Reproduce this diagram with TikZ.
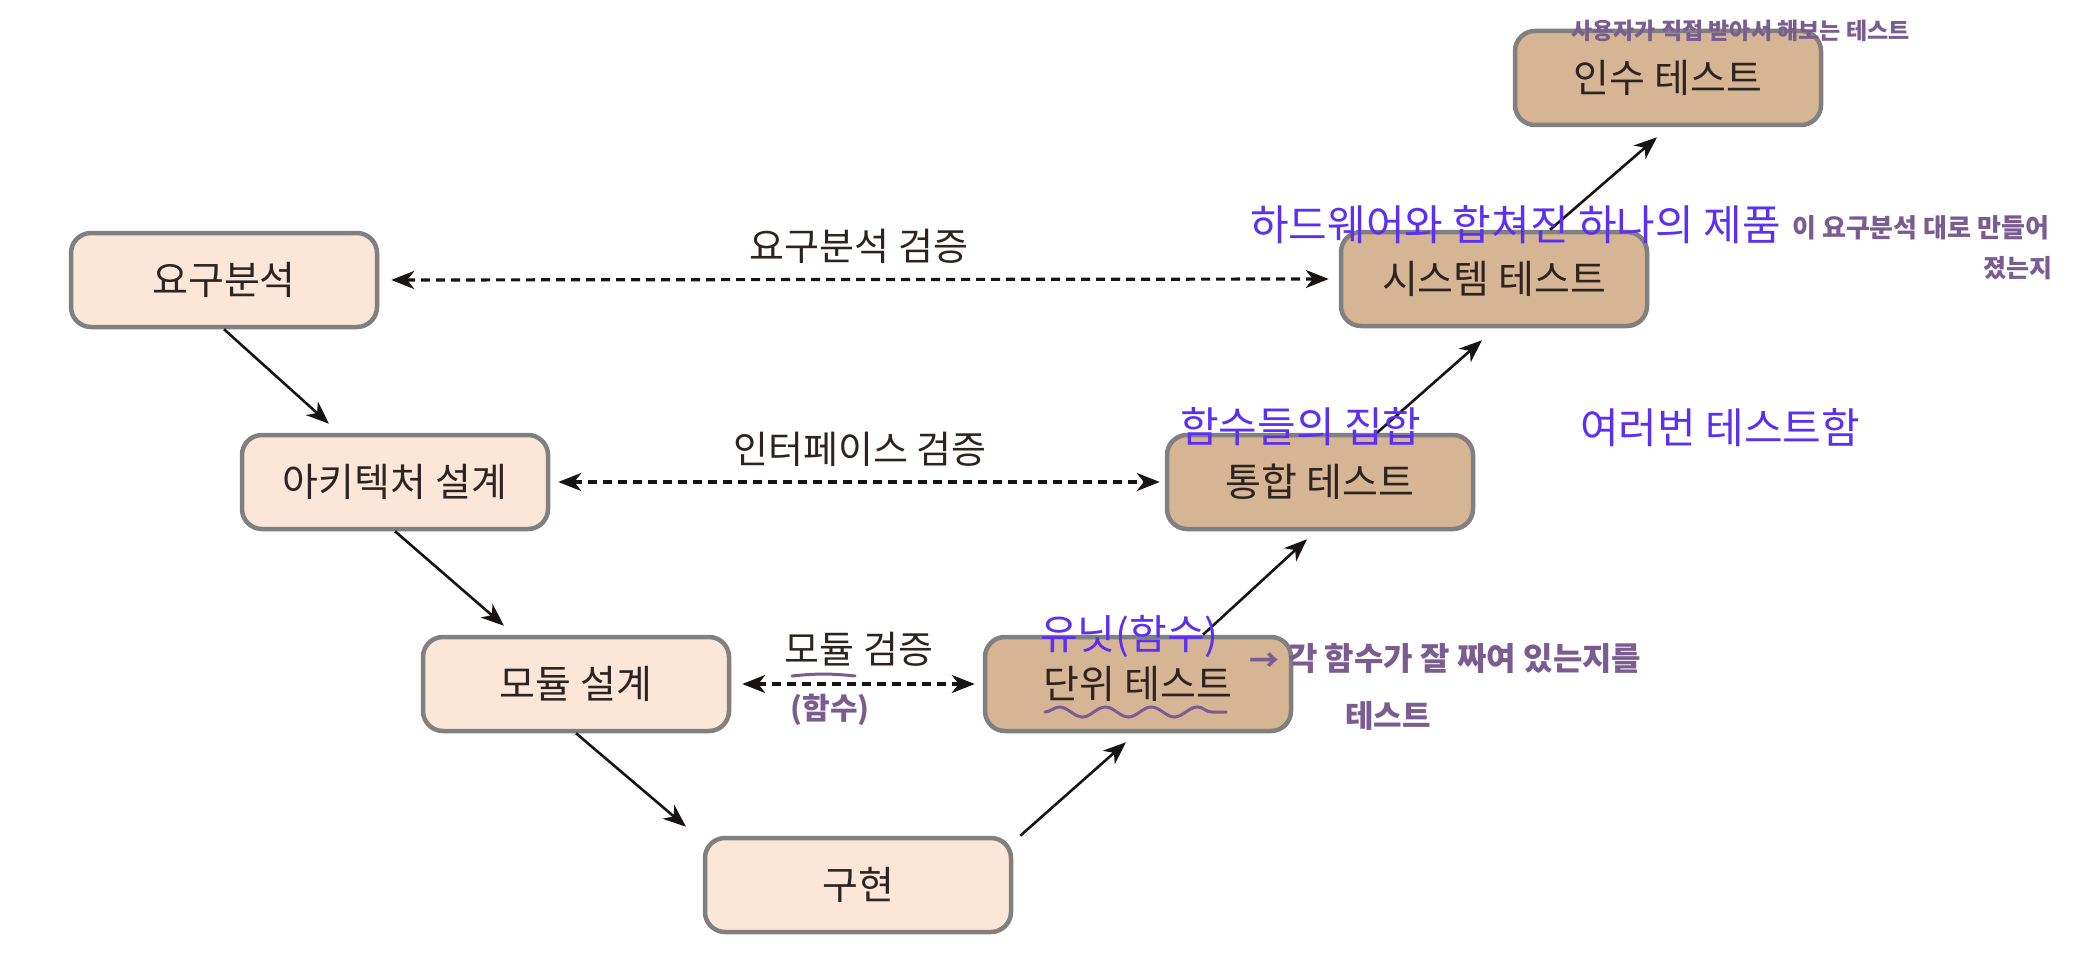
\documentclass[tikz,border=0pt]{standalone}
\usepackage{fontspec}
\setmainfont{Noto Sans CJK KR}
\usetikzlibrary{arrows.meta,calc,decorations.pathmorphing}
\definecolor{lightbox}{RGB}{251,230,216}
\definecolor{darkbox}{RGB}{214,181,149}
\definecolor{boxline}{RGB}{128,128,128}
\definecolor{inktext}{RGB}{45,36,33}
\definecolor{inkarrow}{RGB}{25,20,20}
\definecolor{notebl}{RGB}{92,48,240}
\definecolor{notepu}{RGB}{122,92,145}
\tikzset{
  stagebox/.style={draw=boxline, line width=4.5pt, rounded corners=20pt,
    minimum width=306pt, minimum height=94pt, text=inktext,
    font=\fontsize{39}{44}\selectfont},
  lightstage/.style={stagebox, fill=lightbox},
  darkstage/.style={stagebox, fill=darkbox},
  flowarrow/.style={draw=inkarrow, line width=2.6pt,
    -{Stealth[length=23pt,width=18pt,inset=7pt]}},
  checkarrow/.style={draw=inkarrow, line width=3.2pt, dash pattern=on 9pt off 6pt,
    {Stealth[length=23pt,width=18pt,inset=7pt]}-{Stealth[length=23pt,width=18pt,inset=7pt]}},
  checklabel/.style={text=inktext, font=\fontsize{38}{42}\selectfont, inner sep=0pt},
  bluenote/.style={text=notebl, inner sep=0pt},
  purplenote/.style={text=notepu, inner sep=0pt},
  purpleline/.style={draw=notepu, line width=3pt, line cap=round}
}
\begin{document}
\begin{tikzpicture}[x=1pt,y=-1pt]
\useasboundingbox (0,0) rectangle (2099,955);
% stages
\node[lightstage] (req)   at (224,280) {요구분석};
\node[lightstage] (arch)  at (395,482) {아키텍처 설계};
\node[lightstage] (mod)   at (576,684) {모듈 설계};
\node[lightstage] (impl)  at (858,885) {구현};
\node[darkstage]  (unit)  at (1138,684) {단위 테스트};
\node[darkstage]  (integ) at (1320,482) {통합 테스트};
\node[darkstage]  (sys)   at (1494,279) {시스템 테스트};
\node[darkstage]  (acc)   at (1668,78) {인수 테스트};
% flow arrows
\draw[flowarrow] (req.south) -- ($(arch.north)+(-66,-9)$);
\draw[flowarrow] (arch.south) -- ($(mod.north)+(-72,-9)$);
\draw[flowarrow] (mod.south) -- ($(impl.north)+(-172,-9)$);
\draw[flowarrow] ($(impl.north east)+(7,0)$) -- ($(unit.south)+(-12,9)$);
\draw[flowarrow] ($(unit.north)+(65,0)$) -- ($(integ.south)+(-13,8)$);
\draw[flowarrow] ($(integ.north)+(57,0)$) -- ($(sys.south)+(-12,12)$);
\draw[flowarrow] ($(sys.north)+(56,0)$) -- ($(acc.south)+(-11,10)$);
% verification arrows
\draw[checkarrow] ($(req.east)+(12,0)$) -- ($(sys.west)+(-10,0)$);
\draw[checkarrow] ($(arch.east)+(8,0)$) -- ($(integ.west)+(-5,0)$);
\draw[checkarrow] ($(mod.east)+(11,0)$) -- ($(unit.west)+(-8,0)$);
\node[checklabel] (l1) at (859,246) {요구분석 검증};
\node[checklabel] (l2) at (860,449) {인터페이스 검증};
\node[checklabel] (l3) at (859,649) {모듈 검증};
% blue notes
\node[bluenote, anchor=west, font=\fontsize{42}{48}\selectfont] (n1) at (1250,225) {하드웨어와 합쳐진 하나의 제품};
\node[bluenote, anchor=west, font=\fontsize{42}{48}\selectfont] (n2) at (1180,427) {함수들의 집합};
\node[bluenote, anchor=west, font=\fontsize{42}{48}\selectfont] (n3) at (1580,428) {여러번 테스트함};
\node[bluenote, anchor=west, font=\fontsize{41}{46}\selectfont] (n4) at (1040,636) {유닛(함수)};
% purple handwritten notes
\node[purplenote, anchor=west, font=\fontsize{23}{26}\bfseries] (h1) at (1571,31) {사용자가 직접 받아서 해보는 테스트};
\node[purplenote, anchor=west, font=\fontsize{26}{29}\bfseries] (h2) at (1792,228) {이 요구분석 대로 만들어};
\node[purplenote, font=\fontsize{25}{28}\bfseries] (h3) at (2018,268) {졌는지};
\node[purplenote, font=\fontsize{30}{32}\bfseries] (h4) at (1264,662) {→};
\node[purplenote, anchor=west, font=\fontsize{32}{36}\bfseries] (h5) at (1288,658) {각 함수가 잘 짜여 있는지를};
\node[purplenote, font=\fontsize{31}{34}\bfseries] (h6) at (1388,716) {테스트};
\node[purplenote, font=\fontsize{30}{34}\bfseries] (h7) at (830,710) {(함수)};
\draw[purpleline] ($(h7.center)+(-38,-34)$) to[bend left=6] ($(h7.center)+(25,-34)$);
\draw[purpleline, decorate, decoration={snake, amplitude=5pt, segment length=46pt}]
  ($(unit.center)+(-93,28)$) -- ($(unit.center)+(88,28)$);
\end{tikzpicture}
\end{document}
